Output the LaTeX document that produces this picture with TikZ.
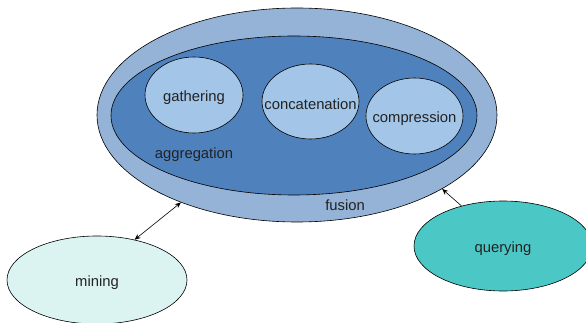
\documentclass[tikz,border=0pt]{standalone}
\usepackage{fontspec}
\setmainfont{Liberation Sans}
\usetikzlibrary{shapes.geometric,arrows.meta}
\definecolor{fusionfill}{HTML}{95B3D7}
\definecolor{aggfill}{HTML}{4F81BD}
\definecolor{stepfill}{HTML}{A2C5E8}
\definecolor{minefill}{HTML}{DBF4F2}
\definecolor{queryfill}{HTML}{4BC8C6}
\definecolor{ink}{HTML}{222222}
\tikzset{
  lbl/.style={text=ink, font=\fontsize{14.8}{17}\selectfont, inner sep=0pt},
  blob/.style={ellipse, draw=black, line width=0.6pt, inner sep=0pt},
  inside/.style={label={[lbl, yshift=-2.5pt]center:#1}},
  link/.style={draw=black, line width=0.6pt},
  >={Stealth[length=6pt,width=5pt]},
}
\begin{document}
\begin{tikzpicture}[x=1pt,y=1pt]
\useasboundingbox (0,0) rectangle (586,-323);
% nested fusion / aggregation regions
\node[blob, fill=fusionfill, minimum width=400pt, minimum height=214pt] (fusion) at (297,-115) {};
\node[blob, fill=aggfill, minimum width=366pt, minimum height=159pt] (aggregation) at (294,-115.5) {};
% the three aggregation steps
\node[blob, fill=stepfill, minimum width=98pt, minimum height=76pt, inside=gathering] (gathering) at (194,-95) {};
\node[blob, fill=stepfill, minimum width=97pt, minimum height=75pt, inside=concatenation] (concatenation) at (310.5,-101.5) {};
\node[blob, fill=stepfill, minimum width=97pt, minimum height=76pt, inside=compression] (compression) at (414.5,-116) {};
\node[lbl] (agglabel) at (194,-155) {aggregation};
\node[lbl] (fusionlabel) at (345,-205) {fusion};
% consumers
\node[blob, fill=minefill, minimum width=180pt, minimum height=88pt, inside=mining] (mining) at (97,-280) {};
\node[blob, fill=queryfill, minimum width=178pt, minimum height=90pt, inside=querying] (querying) at (503,-246) {};
% connectors
\draw[link, <->] (mining.47) -- (fusion.217);
\draw[link, ->] (querying.136) -- (fusion.333);
\end{tikzpicture}
\end{document}
